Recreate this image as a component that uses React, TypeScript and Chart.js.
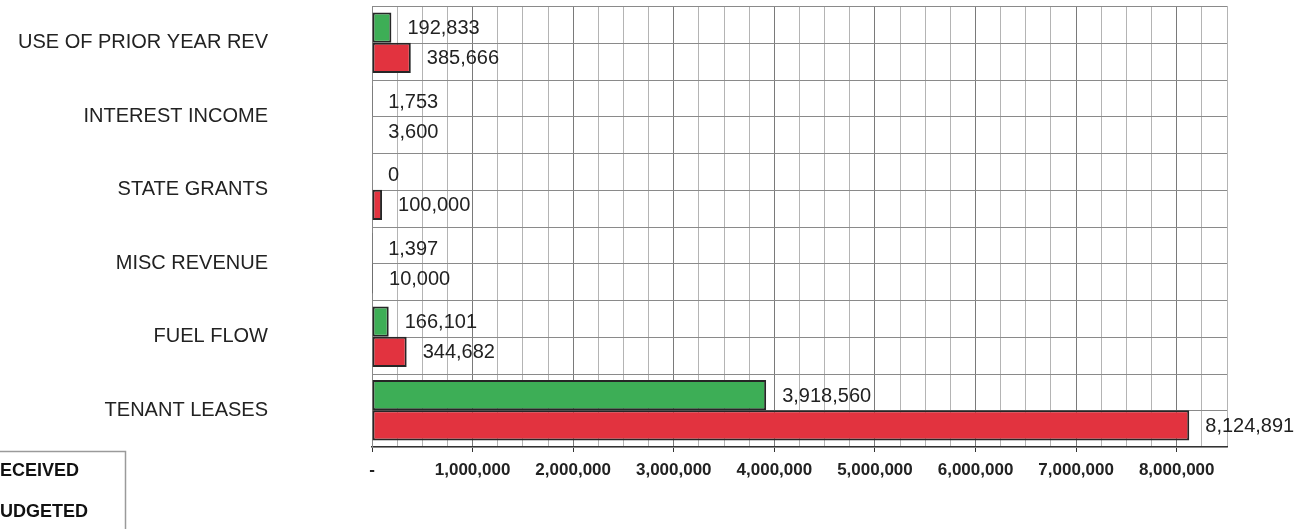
import React, { useEffect, useRef } from "react";
import { Chart, registerables } from "chart.js";

Chart.register(...registerables);

const categories = [
  "USE OF PRIOR YEAR REV",
  "INTEREST INCOME",
  "STATE GRANTS",
  "MISC REVENUE",
  "FUEL FLOW",
  "TENANT LEASES",
];
const received = [192833, 1753, 0, 1397, 166101, 3918560];
const budgeted = [385666, 3600, 100000, 10000, 344682, 8124891];
const seriesNames = ["RECEIVED", "BUDGETED"];

const FONT = "'Liberation Sans', Arial, sans-serif";
const fmt = (v: number) => v.toLocaleString("en-US");

// Horizontal grid: a line at every category boundary and through each band's middle
const halfBandGrid = {
  id: "halfBandGrid",
  beforeDatasetsDraw(chart: any) {
    const { ctx, chartArea, scales } = chart;
    const y = scales.y;
    const n = categories.length;
    ctx.save();
    ctx.strokeStyle = "#8a8a8a";
    ctx.lineWidth = 1;
    for (let i = 0; i <= n * 2; i++) {
      const pos = Math.round(y.getPixelForValue(i / 2 - 0.5)) + 0.5;
      ctx.beginPath();
      ctx.moveTo(chartArea.left, pos);
      ctx.lineTo(chartArea.right, pos);
      ctx.stroke();
    }
    ctx.restore();
  },
};

// Value printed just past the end of each bar
const valueLabels = {
  id: "valueLabels",
  afterDatasetsDraw(chart: any) {
    const { ctx } = chart;
    ctx.save();
    ctx.font = `20px ${FONT}`;
    ctx.fillStyle = "#222";
    ctx.textAlign = "left";
    ctx.textBaseline = "middle";
    chart.data.datasets.forEach((ds: any, di: number) => {
      const meta = chart.getDatasetMeta(di);
      meta.data.forEach((el: any, i: number) => {
        ctx.fillText(fmt(ds.data[i]), el.x + 16, el.y + 1);
      });
    });
    ctx.restore();
  },
};

// Legend box in the lower-left corner
const cornerLegend = {
  id: "cornerLegend",
  afterDraw(chart: any) {
    const { ctx } = chart;
    ctx.save();
    ctx.strokeStyle = "#9a9a9a";
    ctx.lineWidth = 1.5;
    ctx.strokeRect(-60, 451.5, 185.5, 120);
    ctx.font = `bold 18px ${FONT}`;
    ctx.fillStyle = "#111";
    ctx.textBaseline = "middle";
    ctx.textAlign = "left";
    ctx.fillText(seriesNames[0], -13, 471);
    ctx.fillText(seriesNames[1], -13, 512);
    ctx.restore();
  },
};

export default function App() {
  const canvasRef = useRef<HTMLCanvasElement>(null);

  useEffect(() => {
    if (!canvasRef.current) return;
    const chart = new Chart(canvasRef.current, {
      type: "bar",
      data: {
        labels: categories,
        datasets: [
          {
            label: seriesNames[0],
            data: received,
            backgroundColor: "#3dae56",
            borderColor: "#262626",
            borderWidth: 2,
            borderSkipped: false,
            categoryPercentage: 0.82,
            barPercentage: 1,
          },
          {
            label: seriesNames[1],
            data: budgeted,
            backgroundColor: "#e2333f",
            borderColor: "#262626",
            borderWidth: 2,
            borderSkipped: false,
            categoryPercentage: 0.82,
            barPercentage: 1,
          },
        ],
      },
      options: {
        indexAxis: "y",
        responsive: false,
        animation: false,
        layout: { padding: { top: 6, right: 82, left: 0, bottom: 0 } },
        plugins: {
          legend: { display: false },
          tooltip: { enabled: false },
        },
        scales: {
          x: {
            type: "linear",
            min: 0,
            max: 8500000,
            afterFit: (s: any) => {
              s.height = 82;
              s.paddingLeft = 0;
              s.paddingRight = 0;
            },
            ticks: {
              stepSize: 250000,
              maxTicksLimit: 100,
              autoSkip: false,
              maxRotation: 0,
              padding: 8,
              color: "#222",
              font: { family: FONT, size: 17, weight: "bold" },
              callback: (v: any) => {
                const n = Number(v);
                if (n % 1000000 !== 0) return "";
                return n === 0 ? "-" : fmt(n);
              },
            },
            grid: {
              color: (c: any) =>
                c.tick && c.tick.value % 1000000 === 0 ? "#7a7a7a" : "#b4b4b4",
              lineWidth: 1,
              tickLength: 5,
              tickColor: (c: any) =>
                c.tick && c.tick.value % 1000000 === 0 ? "#333" : "rgba(0,0,0,0)",
            },
            border: { color: "#333", width: 1.5 },
          },
          y: {
            type: "category",
            afterFit: (s: any) => {
              s.width = 372;
              s.paddingTop = 0;
              s.paddingBottom = 0;
            },
            ticks: {
              padding: 104,
              color: "#222",
              font: { family: FONT, size: 20 },
            },
            grid: { display: false, drawTicks: false },
            border: { color: "#888", width: 1 },
          },
        },
      },
      plugins: [halfBandGrid, valueLabels, cornerLegend],
    });
    return () => chart.destroy();
  }, []);

  return (
    <div
      style={{
        position: "absolute",
        left: 0,
        top: 0,
        width: 1309,
        height: 529,
        background: "#fff",
        overflow: "hidden",
      }}
    >
      <canvas ref={canvasRef} width={1309} height={529} />
    </div>
  );
}
